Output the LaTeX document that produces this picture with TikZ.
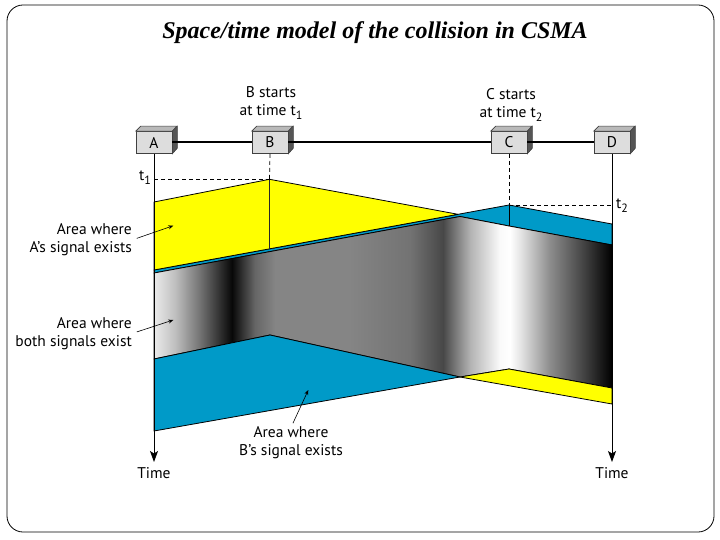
\documentclass[tikz,border=0pt]{standalone}
\usepackage{fontspec}
\setmainfont{Liberation Serif}
\newfontfamily\labfont{PT Sans}
\usetikzlibrary{arrows.meta}
\definecolor{sigyellow}{RGB}{255,255,0}
\definecolor{sigblue}{RGB}{0,154,200}
\definecolor{boxfront}{RGB}{221,221,221}
\definecolor{boxtop}{RGB}{185,185,185}
\definecolor{boxside}{RGB}{85,85,85}
\pgfdeclarehorizontalshading{grayfold}{100bp}{color(0bp)=(black!8); color(25bp)=(black!8); color(27.29bp)=(black!25); color(30.02bp)=(black!55); color(33.52bp)=(black!97); color(36.03bp)=(black!60); color(38.21bp)=(black!48); color(46.4bp)=(black!48); color(52.95bp)=(black!55); color(56.55bp)=(black!72); color(59.5bp)=(black!30); color(62.77bp)=(black!2); color(63.86bp)=(white); color(64.96bp)=(black!10); color(68.23bp)=(black!45); color(72.05bp)=(black!75); color(75bp)=(black); color(100bp)=(black)}
\newcommand\sbs[1]{\raisebox{-0.5ex}{\fontsize{12}{12}\selectfont #1}}
\begin{document}
\begin{tikzpicture}[x=1pt,y=-1pt,
  lab/.style={font=\labfont\fontsize{15.5}{18}\selectfont, inner sep=0pt},
  stn/.style={draw=black!75, line width=0.6pt, fill=boxfront, minimum width=36pt, minimum height=22pt, inner sep=0pt, font=\labfont\fontsize{15.5}{16}\selectfont},
  edge/.style={draw=black, line width=0.8pt, line join=round},
  dashline/.style={dash pattern=on 4pt off 3pt, line width=0.7pt},
  axisarrow/.style={line width=0.8pt, -{Stealth[length=11pt,width=8pt,inset=2.5pt]}},
  lblarrow/.style={line width=0.6pt, -{Stealth[length=5pt,width=4pt]}}]
\useasboundingbox (0,0) rectangle (720,540);
\draw[line width=0.8pt, rounded corners=16pt] (7,5) rectangle (714,532);
\node[inner sep=0pt] (title) at (375,33) {\fontsize{24}{28}\selectfont\itshape\bfseries Space/time model of the collision in CSMA};

% signal regions
\filldraw[fill=sigblue, edge] (154,270) -- (458,214.3) -- (509,205) -- (612,224) -- (612,245) -- (509,226) -- (460,216.5) -- (154,273) -- cycle;
\filldraw[fill=sigyellow, edge] (154,202) -- (269.5,179.3) -- (458,214.3) -- (154,270) -- cycle;
\shadedraw[shading=grayfold, edge] (154,273) -- (460,216.5) -- (509,226) -- (612,245) -- (612,388) -- (509,369) -- (460,377) -- (270,335) -- (154,359) -- cycle;
\filldraw[fill=sigblue, edge] (154,359) -- (270,335) -- (460,377) -- (154,431) -- cycle;
\filldraw[fill=sigyellow, edge] (460,377) -- (509,369) -- (612,388) -- (612,404) -- cycle;

\coordinate (pB) at (269.5,179.3);
\coordinate (pBb) at (269.5,249);
\coordinate (pC) at (509,205);
\coordinate (pCb) at (509,226);
\draw[line width=1.6pt, black!85] (pB) -- (pBb);
\draw[line width=0.8pt] (pC) -- (pCb);

% stations
\node[stn] (A) at (154,142.5) {A};
\node[stn] (B) at (270,142.5) {B};
\node[stn] (C) at (509,142.5) {C};
\node[stn] (D) at (612,142.5) {D};
\foreach \n in {A,B,C,D}{
  \filldraw[fill=boxtop, draw=black!75, line width=0.6pt] (\n.north west) -- ++(5,-5) -- ++(36,0) -- (\n.north east) -- cycle;
  \filldraw[fill=boxside, draw=black!75, line width=0.6pt] (\n.north east) -- ++(5,-5) -- ++(0,22) -- (\n.south east) -- cycle;
}
\draw[line width=2pt] (A.east) -- (B.west);
\draw[line width=2pt] (B.east) -- (C.west);
\draw[line width=2pt] (C.east) -- (D.west);

% time axes
\coordinate (endA) at (154,462);
\coordinate (endD) at (612,462);
\draw[axisarrow] (A.south) -- (endA);
\draw[axisarrow] (D.south) -- (endD);
\node[lab, anchor=north] (timeA) at (154,467) {Time};
\node[lab, anchor=north] (timeD) at (612,467) {Time};

% dashed time marks
\coordinate (t1A) at (154,179.3);
\coordinate (t2D) at (612,205);
\draw[dashline] (B.south) -- (pB);
\draw[dashline] (t1A) -- (pB);
\draw[dashline] (C.south) -- (pC);
\draw[dashline] (pC) -- (t2D);
\node[lab, anchor=east] (t1lab) at (151,177.5) {t\sbs{1}};
\node[lab, anchor=west] (t2lab) at (616,206) {t\sbs{2}};

% top labels
\node[lab, align=center] (bst) at (271,103) {B starts\\at time t\sbs{1}};
\node[lab, align=center] (cst) at (511,105) {C starts\\at time t\sbs{2}};

% area labels
\coordinate (tipA) at (173.3,225.7);
\coordinate (tipBoth) at (173.3,320);
\coordinate (tipB) at (308.3,390);
\node[lab, align=right, anchor=east] (laA) at (132,240) {Area where\\A’s signal exists};
\node[lab, align=right, anchor=east] (laBoth) at (132,333.5) {Area where\\both signals exist};
\node[lab, align=center] (laB) at (291,442.5) {Area where\\B’s signal exists};
\draw[lblarrow, shorten <=5pt] (laA.east) -- (tipA);
\draw[lblarrow, shorten <=5pt] (laBoth.east) -- (tipBoth);
\draw[lblarrow] (laB.north) ++(2,-3) -- (tipB);
\end{tikzpicture}
\end{document}
